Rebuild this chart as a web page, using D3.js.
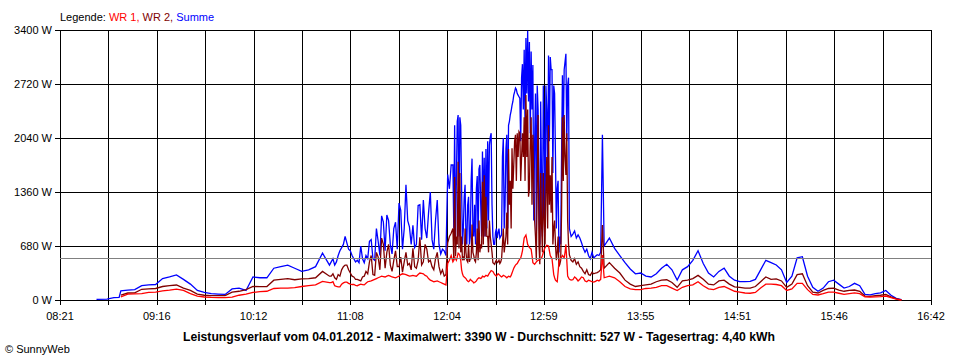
<!DOCTYPE html>
<html>
<head>
<meta charset="utf-8">
<script src="https://cdn.jsdelivr.net/npm/d3@7"></script>
<style>
  body { margin: 0; background: #fff; }
  svg { display: block; }
  text { font-family: "Liberation Sans", Arial, sans-serif; font-size: 11px; fill: #000; }
</style>
</head>
<body>
<div id="chart"></div>
<script>
// sample times and power in W
var times = [
  "08:42","08:48","08:52","08:55","08:56","09:00","09:04","09:08","09:12","09:16",
  "09:20","09:24","09:28","09:32","09:36","09:40","09:44","09:48","09:52","09:56",
  "10:00","10:04","10:08","10:12","10:16","10:20","10:24","10:28","10:32","10:36",
  "10:40","10:44","10:48","10:52","10:56",
  "10:57","10:58","10:59","11:00","11:01","11:02","11:03","11:04","11:05","11:06",
  "11:07","11:08","11:09","11:10","11:11","11:12","11:13","11:14","11:15","11:16",
  "11:17","11:18","11:19","11:20","11:21","11:22","11:23","11:24","11:25","11:26",
  "11:27","11:28","11:29","11:30","11:31","11:32","11:33","11:34","11:35","11:36",
  "11:37","11:38","11:39","11:40","11:41","11:42","11:43","11:44","11:45","11:46",
  "11:47","11:48","11:49","11:50","11:51","11:52","11:53","11:54","11:55","11:56",
  "11:57","11:58","11:59","12:00","12:01","12:02","12:03","12:04","12:05","12:06",
  "12:07","12:07:30","12:08","12:08:30","12:09","12:09:30","12:10","12:10:30","12:11","12:11:30",
  "12:12","12:12:30","12:13","12:13:30","12:14","12:14:30","12:15","12:15:30","12:16","12:16:30",
  "12:17","12:17:30","12:18","12:18:30","12:19","12:19:30","12:20","12:20:30","12:21","12:21:30",
  "12:22","12:22:30","12:23","12:23:30","12:24","12:24:30","12:25","12:25:30","12:26","12:26:30",
  "12:27","12:27:30","12:28","12:28:30","12:29","12:29:30","12:30","12:30:30","12:31","12:31:30",
  "12:32","12:32:30","12:33","12:33:30","12:34","12:34:30","12:35","12:35:30","12:36","12:36:30",
  "12:37","12:37:30","12:38","12:38:30","12:39","12:39:30","12:40","12:40:30","12:41","12:41:30",
  "12:42","12:42:30","12:43","12:43:30","12:44","12:44:30","12:45","12:45:30","12:46","12:46:30",
  "12:47","12:47:30","12:48","12:48:30","12:49","12:49:30","12:50","12:50:30","12:51","12:51:30",
  "12:52","12:52:30","12:53","12:53:30","12:54","12:54:30","12:55","12:55:30","12:56","12:56:30",
  "12:57","12:57:30","12:58","12:58:30","12:59","12:59:30","13:00","13:00:30","13:01","13:01:30",
  "13:02","13:02:30","13:03","13:03:30","13:04","13:04:30","13:05","13:05:30","13:06","13:06:30",
  "13:07","13:07:30","13:08","13:08:30","13:09","13:09:30","13:10","13:10:30","13:11","13:11:30",
  "13:12","13:12:30","13:13","13:13:30",
  "13:14","13:15","13:16","13:17","13:18","13:19","13:20","13:21","13:22","13:23",
  "13:24","13:25","13:26","13:27","13:28","13:29","13:30","13:31","13:32","13:33","13:34",
  "13:37","13:40","13:43","13:46","13:49","13:52","13:55","13:58","14:01","14:04",
  "14:07","14:10","14:13","14:16","14:19","14:22","14:25","14:28","14:31","14:34",
  "14:37","14:40","14:43","14:46","14:49","14:52","14:55","14:58","15:01","15:04",
  "15:07","15:10","15:13","15:16","15:19","15:22","15:25","15:28","15:31","15:34",
  "15:37","15:40","15:43","15:46","15:49","15:52","15:55","15:58","16:01","16:04",
  "16:07","16:10","16:13","16:16","16:19","16:22","16:25"
];

var wr1 = [
  null,null,null,null,40,75,78,80,95,100,
  115,125,138,120,80,50,38,32,30,30,
  35,60,75,95,105,110,145,150,150,155,
  170,180,190,235,220,
  220,230,180,170,165,165,200,215,225,225,
  210,200,195,195,185,180,190,200,195,190,
  210,230,235,240,250,260,270,280,290,300,
  295,290,300,310,300,290,285,280,290,300,
  320,330,325,320,310,300,305,310,305,300,
  320,340,335,330,310,300,270,250,240,230,
  235,240,230,220,210,200,190,460,500,560,
  480,500,540,520,500,540,590,580,560,500,
  380,330,300,290,280,270,250,240,230,240,
  260,250,240,230,215,220,230,240,260,270,
  280,275,270,280,300,295,290,300,310,305,
  300,320,340,355,370,365,360,340,320,310,
  300,315,330,320,310,300,290,300,310,305,
  300,290,280,290,300,295,290,310,340,370,
  400,420,440,450,460,480,500,515,530,570,
  620,700,780,800,818,760,700,680,660,650,
  640,560,470,460,450,465,480,490,500,505,
  510,520,530,560,600,630,660,675,690,685,
  680,620,560,540,520,420,320,280,250,240,
  230,350,480,500,530,540,560,545,530,600,
  700,500,300,280,
  260,250,255,290,270,240,260,290,280,240,
  230,250,240,230,225,235,250,240,260,567,280,
  300,280,230,170,140,130,130,145,150,160,
  180,180,150,120,160,180,190,230,180,140,
  130,160,170,140,110,100,88,85,95,150,
  200,200,195,180,120,140,210,210,130,70,
  63,80,100,100,85,70,80,90,80,40,
  38,40,42,50,30,10,0
];

var wr2 = [
  null,null,null,null,60,88,90,135,140,145,
  170,180,189,150,120,75,60,55,55,55,
  100,110,130,170,168,170,250,260,270,255,
  265,270,280,360,300,
  300,330,280,260,320,300,380,420,440,440,
  380,340,300,290,260,260,250,240,290,300,
  360,330,480,560,320,310,600,540,380,780,
  700,400,600,700,440,360,500,620,420,420,
  540,350,480,600,440,460,380,650,420,400,
  500,790,440,480,700,640,480,500,420,380,
  520,600,420,330,380,300,320,720,800,840,
  900,500,1550,550,800,700,1740,650,1600,600,
  800,500,550,500,900,600,500,480,700,480,
  520,520,950,600,560,500,480,600,900,500,
  1000,600,700,650,1490,700,1570,800,1300,800,
  800,600,1000,800,700,600,470,460,450,480,
  500,470,480,500,460,480,520,700,900,600,
  700,800,1100,700,1900,1200,1500,900,1910,1400,
  1700,2000,2080,1500,2100,1800,2120,2100,1500,1800,
  2100,1800,2300,1500,2580,1800,2400,1300,1400,2000,
  2300,1200,2080,1500,1000,800,500,1500,2330,700,
  450,1600,945,600,1600,1000,700,1400,1800,900,
  2200,1200,1570,1100,1800,700,900,1000,700,500,
  600,800,420,450,500,1100,2300,1500,2330,1800,
  1574,2100,1000,700,
  567,500,480,520,450,480,420,400,360,330,
  380,320,310,350,330,340,345,360,380,945,400,
  470,400,340,250,200,170,180,190,200,230,
  250,255,220,160,240,250,270,310,260,200,
  190,240,250,200,165,160,150,150,170,230,
  290,260,265,240,160,200,320,330,180,100,
  88,120,145,150,125,110,120,126,110,50,
  45,55,60,70,40,15,0
];

var summe = [
  8,10,30,32,115,125,130,180,190,195,
  270,290,315,260,200,120,95,80,75,70,
  140,150,120,290,280,280,400,420,440,400,
  360,380,420,590,440,
  480,520,440,480,560,620,660,700,800,720,
  640,620,560,520,480,500,470,680,520,470,
  560,520,740,760,520,500,900,740,560,1060,
  980,620,1070,1000,700,580,900,980,640,1220,
  1130,640,900,1450,1000,920,700,940,660,700,
  1190,1200,760,1260,900,780,1100,1360,760,640,
  1000,1260,700,580,640,620,560,1580,1400,1700,
  1700,900,2200,800,1500,2250,2330,800,2300,2200,
  1400,700,900,1300,1450,800,700,1200,1300,700,
  800,1500,1780,900,800,1200,700,1400,1560,700,
  1650,1700,1200,800,1870,1000,1790,800,1900,900,
  2000,1000,1950,2050,2100,1200,800,700,700,850,
  900,780,850,900,780,800,820,1800,2040,900,
  1200,1900,2080,900,2200,2250,2330,2380,2450,2500,
  2580,2620,2670,2650,2600,2580,2560,2540,2000,2800,
  2970,2400,3150,2200,3300,2600,3390,2500,3250,2100,
  3130,2400,2960,1000,2000,2600,800,2700,2400,1200,
  700,2500,1500,800,2700,2000,1000,2700,2400,1500,
  3080,2000,3060,2900,2900,1600,2700,2600,1800,900,
  1400,1500,600,800,700,1800,2830,2100,2900,3000,
  3100,2000,2700,2800,
  900,800,830,870,780,820,780,720,650,600,
  640,560,520,600,530,550,570,560,600,2080,680,
  780,650,560,470,390,330,340,300,290,330,
  400,450,380,250,380,420,500,620,460,340,
  290,360,400,300,250,231,231,235,260,380,
  500,470,441,380,220,300,530,545,300,160,
  110,150,230,250,200,150,170,210,180,70,
  65,80,90,120,60,20,5
];

var average = 527;
var yTicks = [0, 680, 1360, 2040, 2720, 3400];
var xTickLabels = ["08:21","09:16","10:12","11:08","12:04","12:59","13:55","14:51","15:46","16:42"];

var parseHM = d3.timeParse("%H:%M"), parseHMS = d3.timeParse("%H:%M:%S");
function parse(s) { return s.length > 5 ? parseHMS(s) : parseHM(s); }

var x = d3.scaleTime().domain([parse("08:21"), parse("16:42")]).range([60, 931]);
var y = d3.scaleLinear().domain([0, 3400]).range([300, 30]);

var svg = d3.select("#chart").append("svg")
  .attr("width", 960)
  .attr("height", 360);

svg.append("rect").attr("width", 960).attr("height", 360).attr("fill", "#fff");

// grid: 18 time intervals, labels on every second line
var t0 = x.domain()[0].getTime(), t1 = x.domain()[1].getTime();
var gridTimes = d3.range(19).map(function (i) { return new Date(t0 + (t1 - t0) * i / 18); });

var grid = svg.append("g").attr("shape-rendering", "crispEdges").attr("stroke", "#000");
grid.selectAll("line.v").data(gridTimes).enter().append("line")
  .attr("x1", function (d) { return Math.round(x(d)) + 0.5; })
  .attr("x2", function (d) { return Math.round(x(d)) + 0.5; })
  .attr("y1", y(3400)).attr("y2", y(0) + 5);
grid.selectAll("line.h").data(yTicks).enter().append("line")
  .attr("x1", 55).attr("x2", 931)
  .attr("y1", function (d) { return Math.round(y(d)) + 0.5; })
  .attr("y2", function (d) { return Math.round(y(d)) + 0.5; });

svg.selectAll("text.ylab").data(yTicks).enter().append("text")
  .attr("x", 52).attr("y", function (d) { return y(d); })
  .attr("dy", "0.35em").attr("text-anchor", "end")
  .text(function (d) { return d + " W"; });

svg.selectAll("text.xlab").data(xTickLabels).enter().append("text")
  .attr("x", function (d, i) { return x(gridTimes[i * 2]); })
  .attr("y", 320).attr("text-anchor", "middle")
  .text(function (d) { return d; });

// series
var rows = times.map(function (t, i) {
  return { t: parse(t), wr1: wr1[i], wr2: wr2[i], summe: summe[i] };
});

function lineFor(key) {
  return d3.line()
    .defined(function (d) { return d[key] != null; })
    .x(function (d) { return x(d.t); })
    .y(function (d) { return y(d[key]); });
}

var series = [
  { key: "summe", color: "#0000ff" },
  { key: "wr2", color: "#800000" },
  { key: "wr1", color: "#ff0000" }
];

svg.selectAll("path.s").data(series).enter().append("path")
  .attr("fill", "none")
  .attr("stroke", function (d) { return d.color; })
  .attr("stroke-width", 1.3)
  .attr("d", function (d) { return lineFor(d.key)(rows); });

// average line
svg.append("line")
  .attr("shape-rendering", "crispEdges")
  .attr("x1", 60).attr("x2", 931)
  .attr("y1", Math.round(y(average)) + 0.5).attr("y2", Math.round(y(average)) + 0.5)
  .attr("stroke", "#808080");

// legend
var leg = svg.append("text").attr("x", 60).attr("y", 21);
leg.append("tspan").text("Legende: ");
leg.append("tspan").style("fill", "#ff0000").text("WR 1, ");
leg.append("tspan").style("fill", "#800000").text("WR 2, ");
leg.append("tspan").style("fill", "#0000ff").text("Summe");

svg.append("text")
  .attr("x", 183).attr("y", 341)
  .attr("textLength", 592).attr("lengthAdjust", "spacingAndGlyphs")
  .style("font-weight", "bold").style("font-size", "12px")
  .text("Leistungsverlauf vom 04.01.2012 - Maximalwert: 3390 W - Durchschnitt: 527 W - Tagesertrag: 4,40 kWh");

svg.append("text").attr("x", 5).attr("y", 353).text("\u00a9 SunnyWeb");
</script>
</body>
</html>
